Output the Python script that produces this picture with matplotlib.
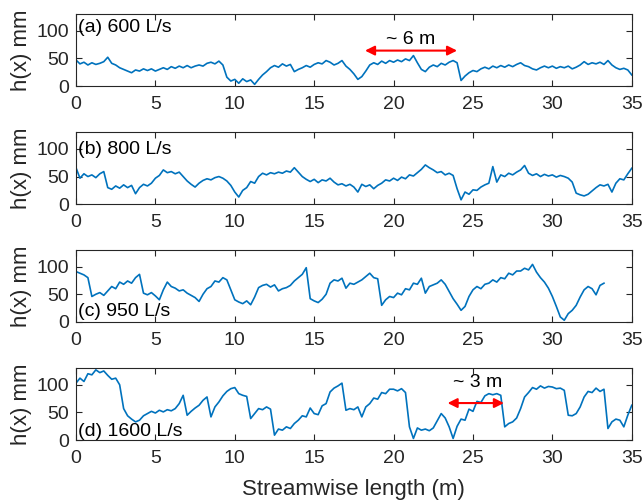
import matplotlib
matplotlib.use('Agg')
import matplotlib.pyplot as plt
import numpy as np

plt.rcParams['font.family'] = ['Liberation Sans', 'DejaVu Sans']
plt.rcParams['font.size'] = 14

# Bed profiles h(x) in mm, sampled every 0.25 m along the flume
step = 0.25

h_600 = [47, 40, 43, 38, 42, 39, 41, 44,
         52, 41, 38, 33, 30, 27, 24, 29,
         27, 31, 28, 31, 27, 30, 33, 30,
         35, 32, 36, 33, 37, 33, 36, 38,
         36, 41, 43, 40, 45, 38, 16, 9,
         12, 5, 13, 8, 11, 3, 12, 20,
         26, 33, 37, 34, 40, 36, 39, 26,
         30, 33, 37, 34, 39, 42, 40, 46,
         43, 38, 41, 46, 36, 30, 22, 12,
         17, 27, 38, 42, 39, 45, 41, 46,
         43, 47, 44, 49, 46, 55, 42, 30,
         26, 34, 38, 35, 41, 38, 43, 46,
         42, 10, 18, 24, 28, 26, 31, 34,
         31, 36, 33, 37, 34, 38, 35, 39,
         42, 37, 35, 31, 29, 33, 36, 33,
         36, 32, 35, 33, 36, 31, 34, 38,
         44, 39, 42, 40, 43, 39, 46, 38,
         33, 30, 32, 29, 20]

h_800 = [66, 47, 55, 50, 53, 48, 55, 59,
         30, 27, 33, 29, 35, 30, 34, 19,
         30, 36, 33, 38, 47, 52, 62, 57,
         59, 55, 58, 50, 42, 36, 31, 38,
         43, 46, 44, 48, 50, 47, 42, 34,
         22, 13, 25, 30, 41, 38, 50, 56,
         53, 57, 55, 58, 56, 60, 58, 66,
         58, 50, 45, 41, 45, 39, 44, 42,
         47, 40, 35, 37, 33, 36, 31, 22,
         36, 32, 35, 28, 34, 38, 44, 42,
         47, 43, 49, 46, 53, 51, 57, 63,
         71, 66, 62, 57, 59, 53, 56, 52,
         28, 8, 22, 18, 26, 25, 31, 35,
         38, 68, 40, 53, 50, 56, 53, 58,
         62, 70, 56, 52, 55, 50, 54, 51,
         53, 49, 52, 50, 47, 40, 20, 17,
         15, 18, 24, 30, 35, 33, 36, 22,
         38, 46, 44, 55, 65]

h_950 = [91, 88, 85, 80, 46, 50, 53, 48,
         56, 64, 60, 72, 68, 74, 70, 80,
         86, 52, 49, 53, 47, 40, 58, 72,
         64, 61, 56, 58, 52, 48, 44, 37,
         50, 60, 64, 74, 72, 80, 76, 58,
         40, 36, 33, 38, 31, 45, 62, 66,
         68, 63, 67, 56, 60, 62, 66, 74,
         80, 86, 98, 42, 38, 35, 41, 50,
         70, 76, 74, 79, 61, 70, 68, 72,
         76, 82, 88, 80, 78, 30, 40, 46,
         44, 52, 49, 60, 58, 70, 68, 79,
         52, 64, 67, 70, 76, 68, 55, 42,
         32, 21, 28, 46, 58, 64, 60, 68,
         70, 76, 72, 80, 78, 88, 85, 92,
         92, 97, 94, 104, 90, 80, 72, 61,
         46, 28, 9, 3, 15, 21, 30, 45,
         58, 64, 60, 49, 66, 70]

h_1600 = [103, 112, 106, 120, 118, 127, 122, 125,
          117, 110, 112, 100, 57, 44, 38, 33,
          36, 44, 48, 52, 49, 54, 51, 55,
          53, 57, 66, 81, 45, 52, 58, 63,
          72, 78, 42, 60, 69, 80, 88, 93,
          95, 84, 81, 79, 39, 48, 57, 55,
          60, 56, 9, 20, 18, 24, 21, 30,
          36, 44, 42, 58, 48, 46, 62, 66,
          87, 94, 98, 103, 54, 57, 55, 60,
          42, 60, 66, 76, 74, 86, 84, 92,
          92, 89, 93, 86, 24, 3, 22, 18,
          20, 17, 22, 35, 48, 40, 24, 3,
          25, 38, 36, 56, 52, 70, 68, 80,
          84, 82, 84, 81, 24, 30, 33, 40,
          57, 78, 86, 95, 92, 98, 94, 97,
          96, 93, 94, 90, 45, 44, 48, 60,
          78, 88, 86, 94, 88, 92, 21, 33,
          38, 36, 24, 45, 63]

profiles = [h_600, h_800, h_950, h_1600]
labels = ['(a) 600 L/s', '(b) 800 L/s', '(c) 950 L/s', '(d) 1600 L/s']
label_y = [105, 98, 19, 15]

fig = plt.figure(figsize=(6.44, 5.03), dpi=100)
bottoms = [0.829, 0.594, 0.360, 0.125]
height = 0.143
axes = []
for i, h in enumerate(profiles):
    ax = fig.add_axes([0.118, bottoms[i], 0.863, height])
    x = np.arange(len(h)) * step
    ax.plot(x, h, color='#0072BD', lw=1.2)
    ax.set_xlim(0, 35)
    ax.set_ylim(0, 130)
    ax.set_xticks(np.arange(0, 36, 5))
    ax.set_yticks([0, 50, 100])
    ax.tick_params(direction='in', top=True, right=True, length=4, width=0.8,
                   colors='#262626', labelcolor='#262626', labelsize=14)
    ax.tick_params(axis='x', pad=7)
    ax.tick_params(axis='y', pad=5)
    for s in ax.spines.values():
        s.set_linewidth(0.8)
        s.set_color('#262626')
    ax.set_ylabel('h(x) mm', color='#262626', fontsize=16, labelpad=3)
    ax.text(0.1, label_y[i], labels[i], va='center', ha='left', color='black', fontsize=14)
    axes.append(ax)

axes[-1].set_xlabel('Streamwise length (m)', color='#262626', fontsize=16, labelpad=9)

# wavelength markers
axes[0].annotate('', xy=(24.0, 64), xytext=(18.2, 64),
                 arrowprops=dict(arrowstyle='<|-|>', color='red', lw=1.5,
                                 mutation_scale=14, shrinkA=0, shrinkB=0))
axes[0].text(21.1, 84, '~ 6 m', ha='center', va='center', fontsize=14)
axes[3].annotate('', xy=(26.95, 67), xytext=(23.4, 67),
                 arrowprops=dict(arrowstyle='<|-|>', color='red', lw=1.5,
                                 mutation_scale=14, shrinkA=0, shrinkB=0))
axes[3].text(25.3, 104, '~ 3 m', ha='center', va='center', fontsize=14)

plt.savefig('out.png', dpi=100)
